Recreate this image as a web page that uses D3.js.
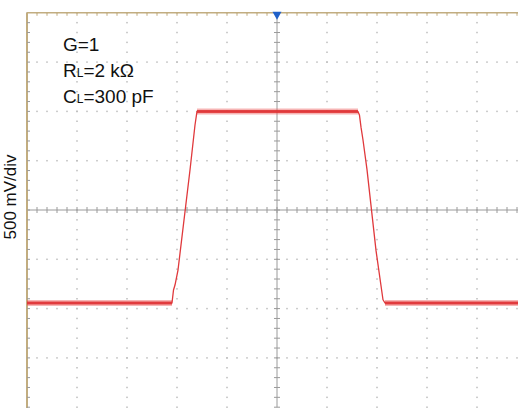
<!DOCTYPE html>
<html>
<head>
<meta charset="utf-8">
<script src="https://cdn.jsdelivr.net/npm/d3@7"></script>
<style>
  html, body { margin: 0; padding: 0; background: #fff; }
  svg { display: block; }
</style>
</head>
<body>
<div id="chart"></div>
<script>
// Waveform samples: time in divisions from screen centre, amplitude in volts
const timeDiv = [-5.0, -2.10, -2.07, -2.04, -1.98, -1.74, -1.64, -1.60,
                 1.62, 1.65, 1.68, 1.72, 1.80, 1.98, 2.12, 2.16, 5.0];
const volts   = [-0.943, -0.943, -0.811, -0.761, -0.609, 0.406, 0.862, 1.0,
                 1.0, 0.96, 0.84, 0.71, 0.41, -0.41, -0.91, -0.943, -0.943];

const voltsPerDiv = 0.5;
const yLabel = "500 mV/div";
const noteLines = [
  { main: "G=1", sub: "", rest: "" },
  { main: "R", sub: "L", rest: "=2 k\u03A9" },
  { main: "C", sub: "L", rest: "=300 pF" }
];

const W = 518, H = 408;
const x0 = 27, xDiv = 50;        // screen left edge, px per horizontal division
const yc = 210, yDiv = 49.3;     // screen centre, px per vertical division

const x = d3.scaleLinear().domain([-5, 5]).range([x0, x0 + 10 * xDiv]);
const y = d3.scaleLinear()
  .domain([-4 * voltsPerDiv, 4 * voltsPerDiv])
  .range([yc + 4 * yDiv, yc - 4 * yDiv]);

const svg = d3.select("#chart").append("svg")
  .attr("width", W).attr("height", H);

const gridColor = "#bdbdbd";
const g = svg.append("g");

// dotted graticule
const majorT = d3.range(-4, 6).filter(t => t !== 0);
const majorV = d3.range(-3, 5).filter(k => k !== 0).map(k => k * voltsPerDiv);
const subT = d3.range(-5, 5.01, 0.2);
const subV = d3.range(-4, 4.01, 0.2).map(k => k * voltsPerDiv);

majorT.forEach(t => {
  g.selectAll(null).data(subV).enter().append("rect")
    .attr("x", x(t) - 0.75).attr("y", d => y(d) - 0.75)
    .attr("width", 1.5).attr("height", 1.5).attr("fill", gridColor);
});
majorV.forEach(v => {
  g.selectAll(null).data(subT).enter().append("rect")
    .attr("x", d => x(d) - 0.75).attr("y", y(v) - 0.75)
    .attr("width", 1.5).attr("height", 1.5).attr("fill", gridColor);
});

// centre axes with minor ticks
const axisColor = "#9a9a9a";
g.append("line").attr("x1", x(-5)).attr("x2", x(5)).attr("y1", y(0)).attr("y2", y(0))
  .attr("stroke", axisColor).attr("stroke-width", 1);
g.append("line").attr("x1", x(0)).attr("x2", x(0)).attr("y1", y(4 * voltsPerDiv)).attr("y2", y(-4 * voltsPerDiv))
  .attr("stroke", axisColor).attr("stroke-width", 1);
g.selectAll(null).data(subT).enter().append("line")
  .attr("x1", d => x(d)).attr("x2", d => x(d))
  .attr("y1", y(0) - 3).attr("y2", y(0) + 3)
  .attr("stroke", axisColor).attr("stroke-width", 1);
g.selectAll(null).data(subV).enter().append("line")
  .attr("x1", x(0) - 3).attr("x2", x(0) + 3)
  .attr("y1", d => y(d)).attr("y2", d => y(d))
  .attr("stroke", axisColor).attr("stroke-width", 1);

// screen frame (top and left) with inward ticks
const frameColor = "#c2ad80";
const topY = y(4 * voltsPerDiv);
g.append("line").attr("x1", x0).attr("x2", W).attr("y1", topY).attr("y2", topY)
  .attr("stroke", frameColor).attr("stroke-width", 1.5);
g.append("line").attr("x1", x0).attr("x2", x0).attr("y1", topY).attr("y2", H)
  .attr("stroke", frameColor).attr("stroke-width", 2);
g.selectAll(null).data(subT.slice(1)).enter().append("line")
  .attr("x1", d => x(d)).attr("x2", d => x(d))
  .attr("y1", topY).attr("y2", topY + 3)
  .attr("stroke", frameColor).attr("stroke-width", 1);
g.selectAll(null).data(subV.slice(0, -1)).enter().append("line")
  .attr("x1", x0).attr("x2", x0 + 3)
  .attr("y1", d => y(d)).attr("y2", d => y(d))
  .attr("stroke", axisColor).attr("stroke-width", 1);

// trigger position marker
g.append("path")
  .attr("d", `M${x(0) - 4.5},${topY - 1} L${x(0) + 4.5},${topY - 1} L${x(0)},${topY + 7} Z`)
  .attr("fill", "#2060c8");

// trace
const pts = timeDiv.map((t, i) => [t, volts[i]]);
const line = d3.line().x(d => x(d[0])).y(d => y(d[1]));

// flat portions carry visible noise: draw them as a wider translucent band
const flats = [];
for (let i = 1; i < pts.length; i++) {
  if (pts[i][1] === pts[i - 1][1]) flats.push([pts[i - 1], pts[i]]);
}
g.selectAll(null).data(flats).enter().append("path")
  .attr("d", line).attr("fill", "none")
  .attr("stroke", "#ec5a5a").attr("stroke-opacity", 0.45).attr("stroke-width", 6);
g.selectAll(null).data(flats).enter().append("path")
  .attr("d", line).attr("fill", "none")
  .attr("stroke", "#e02a2a").attr("stroke-opacity", 0.8).attr("stroke-width", 3);
g.append("path").datum(pts)
  .attr("d", line).attr("fill", "none")
  .attr("stroke", "#e0393c").attr("stroke-width", 1.3)
  .attr("stroke-linejoin", "round");

// annotations
const note = svg.append("g")
  .attr("font-family", "'Liberation Sans', Arial, sans-serif")
  .attr("fill", "#111");
noteLines.forEach((l, i) => {
  const t = note.append("text")
    .attr("x", 63).attr("y", 51 + i * 26)
    .attr("font-size", 19);
  t.append("tspan").text(l.main);
  if (l.sub) t.append("tspan").attr("font-size", 12).text(l.sub);
  if (l.rest) t.append("tspan").text(l.rest);
});

svg.append("text")
  .attr("transform", `translate(16,${197}) rotate(-90)`)
  .attr("text-anchor", "middle")
  .attr("font-family", "'Liberation Sans', Arial, sans-serif")
  .attr("font-size", 17).attr("fill", "#111")
  .text(yLabel);
</script>
</body>
</html>
